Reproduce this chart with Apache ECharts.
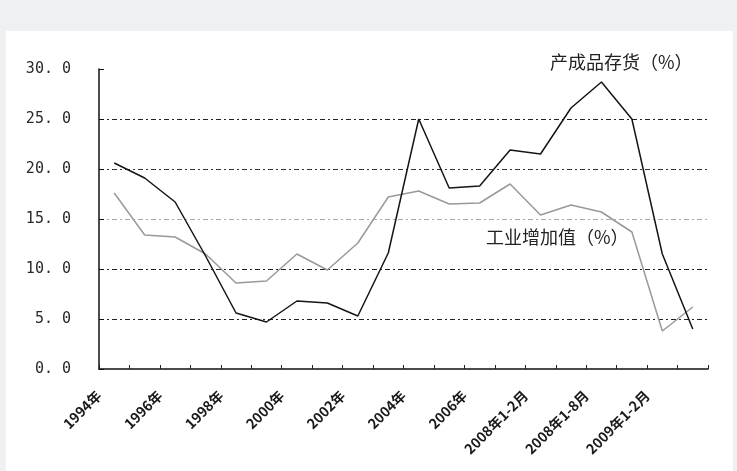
<!DOCTYPE html>
<html><head><meta charset="utf-8">
<script src="https://cdn.jsdelivr.net/npm/echarts@6/dist/echarts.min.js"></script>
<style>
html,body{margin:0;padding:0;background:#eef0f2;}
#card{position:absolute;left:6px;top:31px;width:727px;height:440px;background:#fff;}
#c{position:absolute;left:0;top:0;width:737px;height:471px;}
</style>
</head><body><div id="card"></div><div id="c"></div>
<script>
const categories = ['1994年','1995年','1996年','1997年','1998年','1999年','2000年','2001年','2002年','2003年','2004年','2005年','2006年','2007年','2008年1-2月','2008年1-5月','2008年1-8月','2008年1-11月','2009年1-2月','2009年1-5月'];
const tickLabels = ['1994年','','1996年','','1998年','','2000年','','2002年','','2004年','','2006年','','2008年1-2月','','2008年1-8月','','2009年1-2月','',''];
const inventory = [20.6, 19.1, 16.7, 11.3, 5.6, 4.7, 6.8, 6.6, 5.3, 11.6, 25.0, 18.1, 18.3, 21.9, 21.5, 26.1, 28.7, 25.0, 11.5, 4.0];
const industrial = [17.6, 13.4, 13.2, 11.5, 8.6, 8.8, 11.5, 9.9, 12.6, 17.2, 17.8, 16.5, 16.6, 18.5, 15.4, 16.4, 15.7, 13.7, 3.8, 6.2];
const inventoryName = '产成品存货（%）';
const industrialName = '工业增加值（%）';

const chart = echarts.init(document.getElementById('c'));
chart.setOption({
  backgroundColor: 'transparent',
  animation: false,
  grid: {left: 99, top: 69, right: 29, bottom: 102, containLabel: false},
  xAxis: [
    {type: 'category', data: categories, boundaryGap: true, show: false, position: 'bottom'},
    {type: 'category', data: tickLabels, boundaryGap: false, position: 'bottom',
     axisLine: {onZero: false, lineStyle: {color: '#111', width: 1.5}},
     axisTick: {inside: true, length: 4, interval: 0, lineStyle: {color: '#222'}},
     axisLabel: {interval: 0, rotate: 45, margin: 24, color: '#1a1a1a', fontSize: 14, fontWeight: 'bold',
                 fontFamily: 'Noto Sans CJK SC'},
     splitLine: {show: false}}
  ],
  yAxis: {
    type: 'value', min: 0, max: 30, interval: 5,
    axisLine: {show: true, lineStyle: {color: '#111', width: 1.5}},
    axisTick: {show: true, inside: true, length: 5, lineStyle: {color: '#111'}},
    axisLabel: {margin: 28, color: '#2a2a2a', fontSize: 15, fontFamily: 'DejaVu Sans Mono',
                formatter: v => v.toFixed(1).replace('.', '. ')},
    splitLine: {show: true, lineStyle: {type: [5, 3, 2, 3], width: 1,
                color: ['transparent', '#222', '#222', '#aaa', '#333', '#222', 'transparent']}}
  },
  series: [
    {name: inventoryName, type: 'line', xAxisIndex: 0, data: inventory, symbol: 'none',
     lineStyle: {color: '#151515', width: 1.5}, z: 3},
    {name: industrialName, type: 'line', xAxisIndex: 0, data: industrial, symbol: 'none',
     lineStyle: {color: '#999', width: 1.5}, z: 2}
  ],
  graphic: [
    {type: 'text', left: 550, top: 53, style: {text: inventoryName, fontSize: 18, fontFamily: 'Noto Sans CJK SC', fill: '#222'}},
    {type: 'text', left: 486, top: 228, style: {text: industrialName, fontSize: 18, fontFamily: 'Noto Sans CJK SC', fill: '#222'}}
  ]
});
</script>
</body></html>
